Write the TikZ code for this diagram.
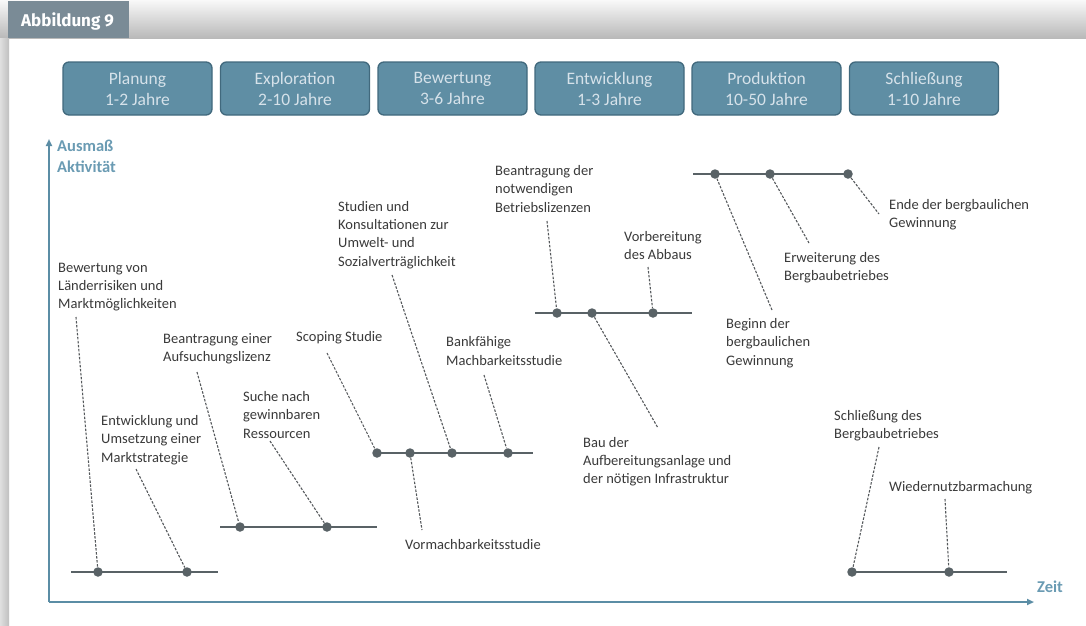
\documentclass[tikz,border=0pt]{standalone}
\usepackage{fontspec}
\setmainfont{Carlito}
\newfontfamily\hdrfont{Fira Sans}
\usetikzlibrary{arrows.meta}
\definecolor{boxfill}{HTML}{5F8EA4}
\definecolor{boxline}{HTML}{41697D}
\definecolor{boxtext}{HTML}{D6E2EA}
\definecolor{axisc}{HTML}{5B8DA5}
\definecolor{axlab}{HTML}{6A9BB3}
\definecolor{barc}{HTML}{596266}
\definecolor{txtc}{HTML}{3A3A3A}
\definecolor{tabc}{HTML}{7A8B96}
\definecolor{leadc}{HTML}{55595C}
\begin{document}
\begin{tikzpicture}[x=1pt,y=-1pt,
 phase/.style={draw=boxline, line width=1.3pt, fill=boxfill, rounded corners=6pt, minimum width=149pt, minimum height=53pt, text=boxtext, align=center, font=\fontsize{17.5}{21}\selectfont, inner sep=0pt},
 lbl/.style={anchor=west, align=left, text=txtc, font=\fontsize{14.5}{18.3}\selectfont, inner sep=0pt},
 bar/.style={draw=barc, line width=2.8pt},
 dot/.style={circle, fill=barc, inner sep=0pt, minimum size=9.5pt},
 lead/.style={draw=leadc, line width=1.1pt, dash pattern=on 2.5pt off 1.5pt},
 axis/.style={draw=axisc, line width=1.8pt, -{Triangle[length=7pt,width=6pt]}},
 axl/.style={text=axlab, font=\fontsize{16.5}{21}\selectfont\bfseries, anchor=west, align=left, inner sep=0pt}
]
\useasboundingbox (0,0) rectangle (1086,625);
% background card
\fill[white] (0,0) rectangle (1086,625);
\shade[top color=white!95!gray, bottom color=gray!55] (0,0) rectangle (1086,38);
\shade[left color=gray!25, right color=gray!50] (0,38) rectangle (9,625);
% tab
\fill[tabc] (8,1) rectangle (129,38);
\node[anchor=west, text=white, inner sep=0pt, font=\hdrfont\fontsize{17}{20}\selectfont\bfseries] (tab) at (21,21) {Abbildung 9};

% phases
\node[phase] (p1) at (137.5,88.5) {Planung\\1-2 Jahre};
\node[phase] (p2) at (295,88.5) {Exploration\\2-10 Jahre};
\node[phase] (p3) at (452.5,88.5) {Bewertung\\3-6 Jahre};
\node[phase] (p4) at (609.5,88.5) {Entwicklung\\1-3 Jahre};
\node[phase] (p5) at (766.5,88.5) {Produktion\\10-50 Jahre};
\node[phase] (p6) at (924,88.5) {Schließung\\1-10 Jahre};

% axes
\coordinate (O) at (49,602);
\coordinate (ytip) at (49,139);
\coordinate (xtip) at (1034,602);
\draw[axis] (O) -- (ytip);
\draw[axis] (O) -- (xtip);
\node[axl] (ylab) at (57,156.5) {Ausmaß\\Aktivität};
\node[axl] (xlab) at (1037,587) {Zeit};

% bars
\coordinate (b1s) at (71,572);  \coordinate (b1e) at (218,572);
\coordinate (b2s) at (220,527); \coordinate (b2e) at (377,527);
\coordinate (b3s) at (377,453); \coordinate (b3e) at (533,453);
\coordinate (b4s) at (535,313); \coordinate (b4e) at (692,313);
\coordinate (b5s) at (693,174); \coordinate (b5e) at (848,174);
\coordinate (b6s) at (852,572); \coordinate (b6e) at (1007,572);
\foreach \i in {1,...,6} {\draw[bar] (b\i s) -- (b\i e);}

% dots
\node[dot] (d1a) at (98,572) {};
\node[dot] (d1b) at (187,572) {};
\node[dot] (d2a) at (240,527) {};
\node[dot] (d2b) at (327,527) {};
\node[dot] (d3a) at (377,453) {};
\node[dot] (d3b) at (410,453) {};
\node[dot] (d3c) at (452,453) {};
\node[dot] (d3d) at (508,453) {};
\node[dot] (d4a) at (557,313) {};
\node[dot] (d4b) at (592,313) {};
\node[dot] (d4c) at (653,313) {};
\node[dot] (d5a) at (715,174) {};
\node[dot] (d5b) at (770,174) {};
\node[dot] (d5c) at (848,174) {};
\node[dot] (d6a) at (852,572) {};
\node[dot] (d6b) at (949,572) {};

% labels
\node[lbl] (l1) at (58,287) {Bewertung von\\Länderrisiken und\\Marktmöglichkeiten};
\node[lbl] (l2) at (101,440) {Entwicklung und\\Umsetzung einer\\Marktstrategie};
\node[lbl] (l3) at (163,349) {Beantragung einer\\Aufsuchungslizenz};
\node[lbl] (l4) at (243,415) {Suche nach\\gewinnbaren\\Ressourcen};
\node[lbl] (l5) at (296,338) {Scoping Studie};
\node[lbl] (l6) at (338,235) {Studien und\\Konsultationen zur\\Umwelt- und\\Sozialverträglichkeit};
\node[lbl] (l7) at (446,351) {Bankfähige\\Machbarkeitsstudie};
\node[lbl] (l8) at (405,545) {Vormachbarkeitsstudie};
\node[lbl] (l9) at (495,189) {Beantragung der\\notwendigen\\Betriebslizenzen};
\node[lbl] (l10) at (624,245.5) {Vorbereitung\\des Abbaus};
\node[lbl] (l11) at (583,461.5) {Bau der\\Aufbereitungsanlage und\\der nötigen Infrastruktur};
\node[lbl] (l12) at (726,343) {Beginn der\\bergbaulichen\\Gewinnung};
\node[lbl] (l13) at (784,268) {Erweiterung des\\Bergbaubetriebes};
\node[lbl] (l14) at (889,215) {Ende der bergbaulichen\\Gewinnung};
\node[lbl] (l15) at (834,426) {Schließung des\\Bergbaubetriebes};
\node[lbl] (l16) at (889,488) {Wiedernutzbarmachung};

% leader ends
\coordinate (e1) at (76,317);
\coordinate (e2) at (136,469);
\coordinate (e3) at (197,372);
\coordinate (e4) at (270,441);
\coordinate (e5) at (327,353);
\coordinate (e6) at (392,275);
\coordinate (e7) at (484,375);
\coordinate (e8) at (422,530);
\coordinate (e9) at (547,221);
\coordinate (e10) at (648,267);
\coordinate (e11) at (658,428);
\coordinate (e12) at (772,310);
\coordinate (e13) at (809,243);
\coordinate (e14) at (879,214);
\coordinate (e15) at (879,447);
\coordinate (e16) at (945,499);

\draw[lead] (e1) -- (d1a);
\draw[lead] (e2) -- (d1b);
\draw[lead] (e3) -- (d2a);
\draw[lead] (e4) -- (d2b);
\draw[lead] (e5) -- (d3a);
\draw[lead] (e6) -- (d3c);
\draw[lead] (e7) -- (d3d);
\draw[lead] (d3b) -- (e8);
\draw[lead] (e9) -- (d4a);
\draw[lead] (e10) -- (d4c);
\draw[lead] (d4b) -- (e11);
\draw[lead] (d5a) -- (e12);
\draw[lead] (d5b) -- (e13);
\draw[lead] (d5c) -- (e14);
\draw[lead] (e15) -- (d6a);
\draw[lead] (e16) -- (d6b);
\end{tikzpicture}
\end{document}
